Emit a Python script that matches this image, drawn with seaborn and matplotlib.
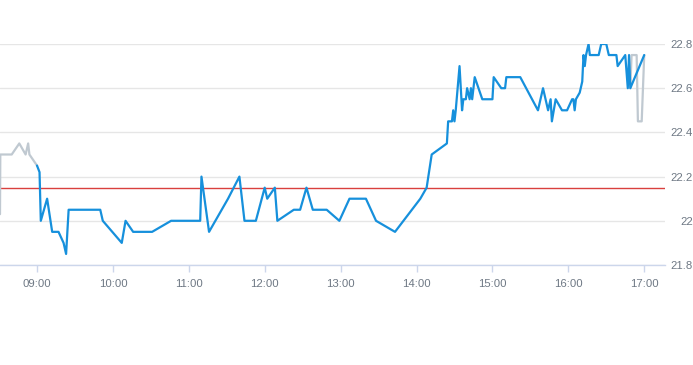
import matplotlib
matplotlib.use("Agg")
import matplotlib.pyplot as plt
import matplotlib.dates as mdates
import seaborn as sns
import pandas as pd

# ---- data ----
main_times = ["09:00", "09:02", "09:03", "09:08", "09:12", "09:17", "09:21", "09:23", "09:25",
              "09:50", "09:52", "10:07", "10:10", "10:16", "10:31", "10:46", "11:09", "11:10",
              "11:16", "11:31", "11:40", "11:44", "11:53", "12:00", "12:02", "12:08", "12:10",
              "12:23", "12:28", "12:33", "12:38", "12:49", "12:59", "13:07", "13:20", "13:28",
              "13:43", "14:03", "14:08", "14:12", "14:24", "14:25", "14:28", "14:29", "14:30",
              "14:31", "14:34", "14:36", "14:37", "14:39", "14:40", "14:42", "14:43", "14:44",
              "14:46", "14:49", "14:52", "15:00", "15:01", "15:07", "15:10", "15:11", "15:22",
              "15:36", "15:40", "15:44", "15:46", "15:47", "15:50", "15:55", "15:59", "16:03",
              "16:04", "16:05", "16:06", "16:09", "16:11", "16:12", "16:13", "16:14", "16:16",
              "16:17", "16:24", "16:26", "16:30", "16:32", "16:38", "16:39", "16:45", "16:47",
              "16:48", "16:49", "17:00"]
main_prices = [22.25, 22.22, 22.0, 22.1, 21.95, 21.95, 21.9, 21.85, 22.05,
               22.05, 22.0, 21.9, 22.0, 21.95, 21.95, 22.0, 22.0, 22.2,
               21.95, 22.1, 22.2, 22.0, 22.0, 22.15, 22.1, 22.15, 22.0,
               22.05, 22.05, 22.15, 22.05, 22.05, 22.0, 22.1, 22.1, 22.0,
               21.95, 22.1, 22.15, 22.3, 22.35, 22.45, 22.45, 22.5, 22.45,
               22.5, 22.7, 22.5, 22.55, 22.55, 22.6, 22.55, 22.6, 22.55,
               22.65, 22.6, 22.55, 22.55, 22.65, 22.6, 22.6, 22.65, 22.65,
               22.5, 22.6, 22.5, 22.55, 22.45, 22.55, 22.5, 22.5, 22.55,
               22.55, 22.5, 22.55, 22.58, 22.63, 22.75, 22.7, 22.75, 22.8,
               22.75, 22.75, 22.8, 22.8, 22.75, 22.75, 22.7, 22.75, 22.6,
               22.75, 22.6, 22.75]

pre_times = ["08:30:45", "08:31:00", "08:40:00", "08:46:00", "08:51:00", "08:53:00",
             "08:54:00", "09:00:00"]
pre_prices = [22.03, 22.3, 22.3, 22.35, 22.3, 22.35, 22.3, 22.25]

post_times = ["16:49", "16:50", "16:54", "16:55", "16:58", "17:00"]
post_prices = [22.6, 22.75, 22.75, 22.45, 22.45, 22.75]

prev_close = 22.15
y_ticks = [21.8, 22.0, 22.2, 22.4, 22.6, 22.8]
x_tick_hours = [9, 10, 11, 12, 13, 14, 15, 16, 17]

DAY = "2024-01-02 "


def frame(times, prices):
    return pd.DataFrame({"time": pd.to_datetime([DAY + t for t in times], format="mixed"),
                         "price": prices})


main_df = frame(main_times, main_prices)
pre_df = frame(pre_times, pre_prices)
post_df = frame(post_times, post_prices)

sns.set_style("white")
plt.rcParams["font.family"] = ["Liberation Sans", "DejaVu Sans"]

fig = plt.figure(figsize=(6.93, 3.65), dpi=100)
ax = fig.add_axes([0.0, 1 - 265 / 365, 665 / 693, (265 - 44) / 365])

gray = "#c0c9d1"
blue = "#1690dc"
sns.lineplot(data=pre_df, x="time", y="price", ax=ax, color=gray, linewidth=1.6,
             estimator=None, sort=False)
sns.lineplot(data=post_df, x="time", y="price", ax=ax, color=gray, linewidth=1.6,
             estimator=None, sort=False)
sns.lineplot(data=main_df, x="time", y="price", ax=ax, color=blue, linewidth=1.6,
             estimator=None, sort=False)
ax.axhline(prev_close, color="#d9403e", linewidth=1.0, zorder=1)

ax.set_xlim(pd.Timestamp(DAY + "08:30:45"), pd.Timestamp(DAY + "17:16:25"))
ax.set_ylim(21.8, 22.8)

label_color = "#6e7884"
ax.set_yticks(y_ticks)
ax.set_yticklabels([f"{v:g}" for v in y_ticks])
ax.yaxis.tick_right()
ax.tick_params(axis="y", length=0, pad=20, labelsize=8.2, labelcolor=label_color)
for lbl in ax.get_yticklabels():
    lbl.set_horizontalalignment("right")

ax.set_xticks([pd.Timestamp(DAY + f"{h:02d}:00") for h in x_tick_hours])
ax.xaxis.set_major_formatter(mdates.DateFormatter("%H:%M"))
ax.tick_params(axis="x", length=5, width=1, color="#ccd6eb", pad=5,
               labelsize=8.2, labelcolor=label_color, bottom=True)

ax.grid(axis="y", color="#e6e6e6", linewidth=1.0)
ax.grid(axis="x", visible=False)
ax.set_axisbelow(True)
for side in ["top", "left", "right"]:
    ax.spines[side].set_visible(False)
ax.spines["bottom"].set_color("#ccd6eb")
ax.spines["bottom"].set_linewidth(1.0)
ax.set_xlabel("")
ax.set_ylabel("")

fig.savefig("out.png", dpi=100)
